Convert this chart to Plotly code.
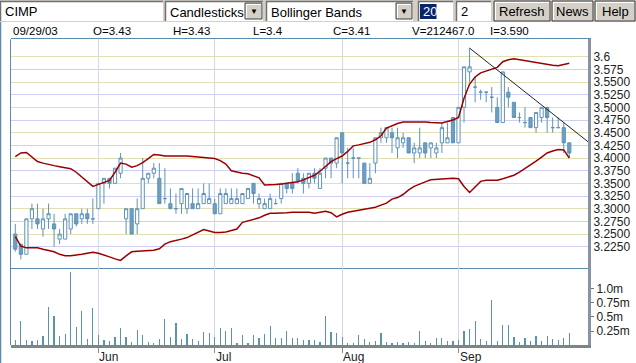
import plotly.graph_objects as go

W, H = 636, 363

# ---------------- data ----------------
opens = [3.25,3.23,3.21,3.28,3.28,3.26,3.28,3.27,3.24,3.24,
         3.26,3.29,3.28,3.29,3.28,3.30,3.35,3.36,3.35,3.37,
         3.28,3.30,3.27,3.30,3.36,3.37,3.36,3.32,3.31,3.30,
         3.31,3.30,3.31,3.30,3.31,3.31,3.31,3.29,3.31,3.31,
         3.31,3.31,3.32,3.35,3.31,3.30,3.30,3.31,3.32,3.35,
         3.35,3.37,3.36,3.35,3.37,3.34,3.38,3.40,3.39,3.45,
         3.39,3.40,3.40,3.39,3.35,3.39,3.44,3.44,3.45,3.42,
         3.43,3.44,3.41,3.41,3.43,3.42,3.41,3.43,3.43,3.48,
         3.43,3.50,3.57,3.54,3.53,3.53,3.52,3.50,3.47,3.53,
         3.51,3.48,3.47,3.48,3.46,3.48,3.50,3.46,3.46,3.46,
         3.43]
highs = [3.27,3.23,3.28,3.31,3.31,3.30,3.31,3.29,3.26,3.29,
         3.29,3.29,3.30,3.30,3.32,3.35,3.36,3.36,3.38,3.41,
         3.30,3.30,3.32,3.40,3.37,3.39,3.39,3.38,3.34,3.33,
         3.34,3.33,3.34,3.34,3.35,3.35,3.32,3.34,3.34,3.34,
         3.34,3.33,3.34,3.35,3.33,3.32,3.33,3.32,3.35,3.35,
         3.37,3.38,3.37,3.37,3.38,3.38,3.40,3.40,3.44,3.45,
         3.42,3.42,3.40,3.39,3.39,3.44,3.46,3.46,3.46,3.46,
         3.45,3.44,3.43,3.46,3.43,3.43,3.43,3.47,3.47,3.48,
         3.50,3.58,3.617,3.56,3.535,3.53,3.54,3.52,3.57,3.54,
         3.51,3.49,3.50,3.48,3.49,3.50,3.50,3.48,3.48,3.47,
         3.43]
lows = [3.215,3.20,3.21,3.26,3.26,3.245,3.26,3.225,3.23,3.24,
        3.25,3.265,3.27,3.27,3.27,3.30,3.31,3.34,3.35,3.36,
        3.25,3.25,3.25,3.30,3.35,3.36,3.31,3.31,3.30,3.29,
        3.29,3.29,3.30,3.30,3.31,3.31,3.29,3.29,3.31,3.31,
        3.31,3.31,3.32,3.31,3.30,3.30,3.30,3.31,3.31,3.33,
        3.33,3.35,3.33,3.34,3.35,3.34,3.36,3.36,3.38,3.35,
        3.36,3.36,3.36,3.35,3.35,3.37,3.43,3.43,3.41,3.40,
        3.42,3.41,3.39,3.40,3.40,3.40,3.40,3.41,3.43,3.43,
        3.43,3.47,3.55,3.51,3.515,3.51,3.49,3.47,3.47,3.50,
        3.48,3.47,3.46,3.46,3.45,3.47,3.45,3.45,3.46,3.41,
        3.40]
closes = [3.22,3.21,3.28,3.30,3.27,3.28,3.29,3.26,3.25,3.28,
          3.29,3.27,3.29,3.28,3.28,3.35,3.36,3.35,3.38,3.40,
          3.30,3.25,3.30,3.36,3.37,3.38,3.31,3.32,3.30,3.30,
          3.34,3.33,3.30,3.31,3.33,3.32,3.29,3.33,3.33,3.32,
          3.32,3.33,3.34,3.33,3.32,3.31,3.32,3.31,3.35,3.34,
          3.34,3.355,3.35,3.37,3.36,3.37,3.40,3.39,3.44,3.41,
          3.39,3.40,3.40,3.35,3.36,3.44,3.45,3.46,3.44,3.44,
          3.44,3.41,3.42,3.42,3.41,3.43,3.42,3.46,3.44,3.43,
          3.50,3.58,3.58,3.54,3.53,3.53,3.52,3.47,3.57,3.52,
          3.48,3.48,3.47,3.46,3.49,3.50,3.48,3.46,3.46,3.43,
          3.41]
volumes_m = [0.09,0.43,0.09,0.07,0.09,0.16,0.67,0.51,0.16,0.20,
             1.28,0.32,0.60,0.11,0.65,0.18,0.09,0.07,0.14,0.30,
             0.14,0.06,0.27,0.18,0.06,0.04,0.11,0.46,0.14,0.39,
             0.11,0.20,0.11,0.07,0.23,0.21,0.14,0.30,0.25,0.30,
             0.04,0.18,0.04,0.18,0.13,0.20,0.34,0.13,0.13,0.25,
             0.13,0.13,0.09,0.09,0.09,0.06,0.51,0.23,0.21,0.14,
             0.04,0.04,0.18,0.11,0.06,0.07,0.21,0.06,0.04,0.06,
             0.04,0.06,0.04,0.25,0.07,0.04,0.13,0.13,0.07,0.07,
             0.09,0.25,0.29,0.43,0.11,0.07,0.80,0.07,0.36,0.36,
             0.14,0.06,0.13,0.07,0.16,0.07,0.16,0.11,0.09,0.13,
             0.212467]
bb_upper = [3.403,3.410,3.411,3.402,3.393,3.390,3.387,3.385,3.383,3.381,
            3.379,3.372,3.363,3.354,3.344,3.348,3.352,3.356,3.372,3.390,
            3.388,3.382,3.385,3.391,3.399,3.407,3.406,3.404,3.404,3.404,
            3.405,3.404,3.403,3.402,3.401,3.400,3.399,3.395,3.388,3.375,
            3.372,3.370,3.369,3.365,3.361,3.347,3.347,3.348,3.349,3.350,
            3.352,3.353,3.357,3.361,3.366,3.374,3.384,3.393,3.399,3.404,
            3.413,3.424,3.426,3.428,3.431,3.436,3.444,3.459,3.464,3.468,
            3.471,3.471,3.471,3.472,3.471,3.470,3.469,3.469,3.472,3.475,
            3.480,3.518,3.546,3.560,3.568,3.572,3.576,3.579,3.590,3.594,
            3.596,3.594,3.593,3.591,3.589,3.586,3.584,3.583,3.582,3.584,
            3.587]
bb_lower = [3.245,3.226,3.223,3.223,3.223,3.220,3.218,3.215,3.210,3.207,
            3.207,3.208,3.210,3.212,3.214,3.212,3.209,3.205,3.201,3.198,
            3.207,3.215,3.216,3.217,3.217,3.218,3.221,3.230,3.235,3.237,
            3.240,3.243,3.248,3.253,3.259,3.256,3.253,3.253,3.254,3.257,
            3.260,3.273,3.276,3.278,3.282,3.287,3.291,3.291,3.291,3.292,
            3.293,3.293,3.294,3.293,3.291,3.293,3.295,3.292,3.284,3.289,
            3.293,3.295,3.297,3.299,3.301,3.303,3.307,3.311,3.319,3.322,
            3.328,3.337,3.344,3.349,3.353,3.357,3.358,3.359,3.359,3.360,
            3.359,3.344,3.332,3.343,3.354,3.356,3.356,3.356,3.359,3.362,
            3.366,3.372,3.379,3.386,3.394,3.402,3.410,3.414,3.417,3.416,
            3.400]
trend_idx = [82, 103.4]
trend_val = [3.617, 3.432]

month_labels = ["Jun", "Jul", "Aug", "Sep"]
month_index = [15, 36, 59, 80]
price_ticks = [3.225, 3.25, 3.275, 3.3, 3.325, 3.35, 3.375, 3.4,
               3.425, 3.45, 3.475, 3.5, 3.525, 3.55, 3.575, 3.6]
price_tick_text = ["3.2250", "3.2500", "3.2750", "3.3000", "3.3250", "3.3500",
                   "3.3750", "3.4000", "3.4250", "3.4500", "3.4750", "3.5000",
                   "3.5250", "3.5500", "3.575", "3.6"]
vol_ticks = [0.25, 0.5, 0.75, 1.0]
vol_tick_text = ["0.25m", "0.5m", "0.75m", "1.0m"]
info_labels = ["09/29/03", "O=3.43", "H=3.43", "L=3.4", "C=3.41", "V=212467.0", "I=3.590"]
symbol = "CIMP"
chart_type = "Candlesticks"
study = "Bollinger Bands"
period, width_sd = "20", "2"
buttons = ["Refresh", "News", "Help"]

idx = list(range(len(closes)))

# ---------------- helpers ----------------
def px(x):
    return x / W

def py(y):
    return 1 - y / H

FONT = "Liberation Sans, Arial, sans-serif"
CANDLE_LINE = "#5f93b6"
CANDLE_FILL = "#6d9fc6"
BAND = "#990000"

fig = go.Figure()

fig.add_trace(go.Candlestick(
    x=idx, open=opens, high=highs, low=lows, close=closes,
    increasing=dict(line=dict(color=CANDLE_LINE, width=1), fillcolor="white"),
    decreasing=dict(line=dict(color=CANDLE_LINE, width=1), fillcolor=CANDLE_FILL),
    whiskerwidth=0, xaxis="x", yaxis="y", showlegend=False, hoverinfo="skip"))
fig.add_trace(go.Scatter(x=idx, y=bb_upper, mode="lines", line=dict(color=BAND, width=1.5),
                         xaxis="x", yaxis="y", showlegend=False, hoverinfo="skip"))
fig.add_trace(go.Scatter(x=idx, y=bb_lower, mode="lines", line=dict(color=BAND, width=1.5),
                         xaxis="x", yaxis="y", showlegend=False, hoverinfo="skip"))
fig.add_trace(go.Scatter(x=trend_idx, y=trend_val, mode="lines", line=dict(color="#222222", width=1),
                         xaxis="x", yaxis="y", showlegend=False, hoverinfo="skip", cliponaxis=True))
fig.add_trace(go.Bar(x=idx, y=volumes_m, width=0.22, marker=dict(color="#5b93aa", line=dict(width=0)),
                     xaxis="x2", yaxis="y2", showlegend=False, hoverinfo="skip"))
# helper trace for the second grid colour of the price panel
fig.add_trace(go.Scatter(x=[None], y=[None], xaxis="x", yaxis="y3", showlegend=False, hoverinfo="skip"))

xdom = [px(10.5), px(588)]
xr = [(10.5 - 15.3) / 5.54, (588 - 15.3) / 5.54]
price_dom = [py(268.3), py(39.4)]
vol_dom = [py(345.2), py(268.3)]
price_range = [3.6 - (268.3 - 56.7) / 506.7, 3.6 + (56.7 - 39.4) / 506.7]
vol_range = [0, (345.2 - 268.3) / 56.8]

major_even = [v for v in price_ticks if round(v * 1000) % 50 == 0]
minor_odd = [v for v in price_ticks if round(v * 1000) % 50 != 0]

fig.update_layout(
    width=W, height=H, margin=dict(l=0, r=0, t=0, b=0, autoexpand=False),
    paper_bgcolor="white", plot_bgcolor="white", bargap=0, boxgap=0.18,
    font=dict(family=FONT, size=12, color="black"),
    xaxis=dict(domain=xdom, range=xr, anchor="y", tickvals=month_index, showticklabels=False,
               showgrid=True, gridcolor="#d6d6ee", gridwidth=1, zeroline=False,
               showline=True, linecolor="#5b8cb0", linewidth=1, mirror=True, ticks="",
               rangeslider=dict(visible=False)),
    xaxis2=dict(domain=xdom, range=xr, anchor="y2", matches="x", tickvals=month_index,
                showticklabels=False, showgrid=True, gridcolor="#d6d6ee", zeroline=False,
                showline=True, linecolor="#7b8784", linewidth=3, ticks="outside",
                ticklen=5, tickcolor="#8a8a8a", tickwidth=1),
    yaxis=dict(domain=price_dom, range=price_range, anchor="x", side="right",
               tickvals=price_ticks, ticktext=price_tick_text, showgrid=False, zeroline=False,
               showline=True, linecolor="#8894a2", linewidth=3, ticks="",
               tickfont=dict(size=12, color="#222222"),
               minor=dict(tickvals=minor_odd, showgrid=True, gridcolor="#cfcff4", ticks="")),
    yaxis3=dict(overlaying="y", range=price_range, anchor="x", side="right",
                tickvals=major_even, showticklabels=False, showgrid=True,
                gridcolor="#e2dfb4", zeroline=False, showline=False, ticks=""),
    yaxis2=dict(domain=vol_dom, range=vol_range, anchor="x2", side="right",
                tickvals=vol_ticks, ticktext=vol_tick_text, showgrid=False, zeroline=False,
                showline=True, linecolor="#8894a2", linewidth=3, ticks="outside",
                ticklen=3, tickcolor="#777777", tickfont=dict(size=12, color="#222222")),
)

shapes = []
annots = []

# window / frame lines
shapes.append(dict(type="line", xref="paper", yref="paper", x0=px(0.5), x1=px(0.5),
                   y0=py(22), y1=py(363), line=dict(color="#5b8cb0", width=1.5)))
shapes.append(dict(type="line", xref="paper", yref="paper", x0=px(10.5), x1=px(10.5),
                   y0=py(39.4), y1=py(345), line=dict(color="#5b8cb0", width=1)))

# toolbar band
shapes.append(dict(type="rect", xref="paper", yref="paper", x0=0, x1=1, y0=py(22), y1=1,
                   fillcolor="#d4d0c8", line=dict(width=0), layer="below"))

def field(x0, x1, y0=1, y1=21):
    shapes.append(dict(type="rect", xref="paper", yref="paper", x0=px(x0), x1=px(x1),
                       y0=py(y1), y1=py(y0), fillcolor="white", line=dict(width=0)))
    shapes.append(dict(type="line", xref="paper", yref="paper", x0=px(x0), x1=px(x1),
                       y0=py(y0 + 0.5), y1=py(y0 + 0.5), line=dict(color="#707070", width=1.5)))
    shapes.append(dict(type="line", xref="paper", yref="paper", x0=px(x0 + 0.5), x1=px(x0 + 0.5),
                       y0=py(y0), y1=py(y1), line=dict(color="#707070", width=1.5)))

def button(x0, x1, y0=1, y1=21):
    shapes.append(dict(type="rect", xref="paper", yref="paper", x0=px(x0), x1=px(x1),
                       y0=py(y1), y1=py(y0), fillcolor="#d4d0c8", line=dict(color="#404040", width=1)))
    shapes.append(dict(type="line", xref="paper", yref="paper", x0=px(x0 + 1), x1=px(x1 - 1),
                       y0=py(y0 + 1.5), y1=py(y0 + 1.5), line=dict(color="white", width=1)))
    shapes.append(dict(type="line", xref="paper", yref="paper", x0=px(x0 + 1.5), x1=px(x0 + 1.5),
                       y0=py(y0 + 1), y1=py(y1 - 1), line=dict(color="white", width=1)))

def text(t, x, y, size=13, color="black", anchor="left"):
    annots.append(dict(text=t, x=px(x), y=py(y), xref="paper", yref="paper", showarrow=False,
                       xanchor=anchor, yanchor="middle", font=dict(family=FONT, size=size, color=color)))

field(0, 163)
text(symbol, 3, 11.5)
field(165, 263)
text(chart_type, 168, 12)
button(245, 262, 3, 19)
text("▼", 253.5, 11.5, size=8, anchor="center")
field(266, 413)
text(study, 269, 12)
button(396, 412, 3, 19)
text("▼", 404, 11.5, size=8, anchor="center")
field(418, 453)
shapes.append(dict(type="rect", xref="paper", yref="paper", x0=px(420), x1=px(436.5),
                   y0=py(19), y1=py(4), fillcolor="#0a246a", line=dict(width=0)))
text(period, 420.5, 11.5, color="white")
field(456, 491)
text(width_sd, 459, 11.5)
for (b, x0, x1) in zip(buttons, [494, 552, 595], [550, 593, 635]):
    button(x0, x1)
    text(b, (x0 + x1) / 2, 11.5, anchor="center")

# info line
for t, x in zip(info_labels, [11, 91, 171, 251, 331, 410, 488]):
    text(t, x, 31, size=11.5)

# month labels
for lab, i in zip(month_labels, month_index):
    annots.append(dict(text=lab, x=i, y=py(357), xref="x2", yref="paper", showarrow=False,
                       xanchor="left", yanchor="middle", xshift=-1,
                       font=dict(family=FONT, size=12, color="#222222")))

fig.update_layout(shapes=shapes, annotations=annots)
fig.write_html("out.html", config={"displayModeBar": False, "staticPlot": True},
               post_script="document.body.style.margin='0';document.body.style.overflow='hidden';")
